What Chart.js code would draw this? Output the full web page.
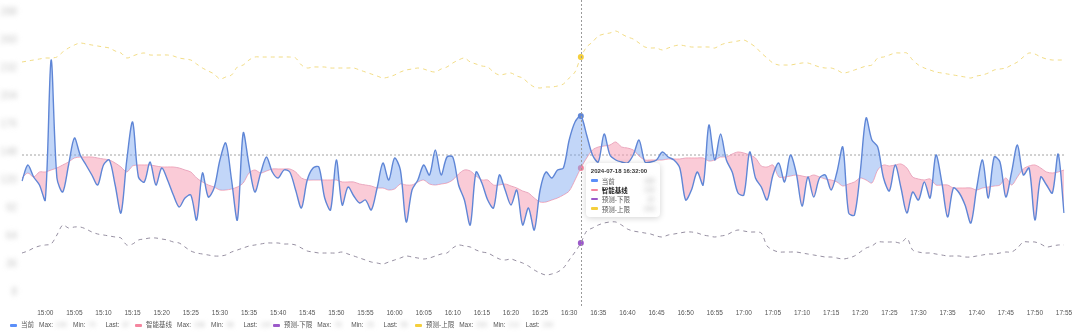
<!DOCTYPE html>
<html>
<head>
<meta charset="utf-8">
<script src="https://cdn.jsdelivr.net/npm/chart.js@4/dist/chart.umd.min.js"></script>
<style>
  body { margin: 0; background: #fff; font-family: "Liberation Sans", "Noto Sans CJK SC", sans-serif; }
  #wrap { position: relative; width: 1080px; height: 335px; }
  #legend { position: absolute; left: 0; top: 321px; font-size: 6.5px; color: #555; white-space: nowrap; line-height: 8px; }
  #legend .item { position: absolute; top: 0; }
  #legend i { display: inline-block; width: 7px; height: 2.5px; border-radius: 1px; vertical-align: middle; margin-right: 4px; }
  #legend .k { margin-left: 5px; }
  #legend .b { display: inline-block; width: 12px; filter: blur(2px); color: #c4c4c4; margin-left: 3px; overflow: hidden; vertical-align: top; }
  #tip { position: absolute; background: #fff; border-radius: 4px; box-shadow: 0 1px 6px rgba(0,0,0,0.18);
         padding: 3px 5px 4px 5px; font-size: 6.5px; color: #555; pointer-events: none; min-width: 62px; }
  #tip .t { font-weight: bold; color: #333; font-size: 6px; line-height: 10px; }
  #tip .row { display: flex; align-items: center; height: 9.3px; }
  #tip .row i { display: inline-block; width: 7px; height: 2.5px; border-radius: 1px; margin-right: 4px; }
  #tip .row.hi .n { font-weight: bold; color: #222; }
  #tip .v { margin-left: auto; padding-left: 14px; filter: blur(2.5px); color: #aaa; }
</style>
</head>
<body>
<div id="wrap">
  <canvas id="c" width="1080" height="335"></canvas>
  <div id="legend"></div>
  <div id="tip"></div>
</div>
<script>
// one point per minute, 14:56 -> 17:55
const dateText = "2024-07-18";
const startMinute = 14 * 60 + 56;
const times = Array.from({ length: 180 }, (_, i) => {
  const t = startMinute + i;
  return String(Math.floor(t / 60)).padStart(2, "0") + ":" + String(t % 60).padStart(2, "0");
});

const seriesNames = ["当前", "智能基线", "预测-下限", "预测-上限"];
const hoverTime = "16:32";

const current = [119,135,123,115,100,240,122,108,135,162,
  145,135,125,115,135,140,115,87,140,178,
  123,118,138,115,132,120,105,93,102,105,
  80,127,103,112,140,157,120,80,167,135,
  108,127,143,128,122,130,128,110,92,120,
  132,133,102,90,140,95,113,104,97,100,
  90,112,137,120,142,130,78,110,120,135,
  125,150,125,143,143,115,100,75,128,117,
  100,92,125,110,95,110,75,92,70,110,
  128,122,130,132,160,178,184,165,145,138,
  166,145,140,138,137,145,160,138,138,140,
  148,143,140,132,100,110,128,115,175,140,
  166,140,128,107,105,148,122,113,100,125,
  137,118,145,127,94,123,103,122,125,110,
  128,153,87,85,128,182,160,153,122,109,
  135,112,87,108,100,118,102,145,118,83,
  112,107,95,77,112,140,102,143,138,103,
  128,155,125,132,80,123,115,107,146,87];

const baseline = [122,127,123,128,128,130,132,135,138,142,
  143,143,143,142,141,140,137,133,128,134,
  135,135,135,134,133,133,133,132,130,128,
  122,118,115,113,110,110,111,113,117,127,
  130,127,129,131,131,131,131,128,122,120,
  120,120,120,120,120,118,118,118,116,115,
  114,112,112,110,111,116,115,115,118,120,
  116,115,116,117,120,126,130,129,124,120,
  120,115,115,116,114,112,109,107,102,98,
  98,100,102,105,109,120,132,142,150,153,
  154,155,158,153,152,150,144,140,140,140,
  140,141,141,141,142,142,142,142,139,140,
  143,143,146,148,147,145,142,134,133,135,
  123,123,124,125,124,123,125,123,121,120,
  118,114,116,118,122,120,117,130,135,134,
  135,136,132,123,121,120,121,115,115,115,
  112,112,112,112,110,112,113,114,115,122,
  115,123,131,134,135,132,128,127,128,130];

const lowerBound = [47,49,52,54,55,56,65,75,72,73,
  73,71,68,66,65,64,63,62,55,56,
  60,61,62,62,61,60,58,57,53,49,
  47,46,45,44,44,45,48,50,52,54,
  55,56,57,57,57,56,56,55,52,49,
  48,47,47,47,47,48,46,44,42,40,
  38,37,36,38,40,42,44,43,42,41,
  42,44,46,47,52,55,54,53,50,48,
  47,44,41,40,41,39,37,34,30,27,
  25,26,28,32,40,48,57,69,72,75,
  77,78,78,75,71,69,68,67,66,64,
  63,65,66,67,68,68,67,65,64,63,
  64,65,68,70,69,68,68,67,54,50,
  48,48,48,48,47,46,45,44,43,43,
  42,41,42,44,48,52,54,58,58,58,
  58,57,62,50,48,47,47,46,45,44,
  44,44,43,43,44,45,46,46,47,48,
  48,52,58,58,58,56,53,54,55,55];

const upperBound = [238,239,240,241,242,242,243,248,252,255,
  257,256,255,254,253,252,249,247,242,244,
  246,247,245,245,245,245,244,242,241,240,
  236,232,229,226,221,223,225,233,235,240,
  243,243,243,243,243,243,243,242,235,232,
  233,233,233,232,232,232,232,232,230,228,
  226,224,222,223,225,228,230,231,232,231,
  229,228,231,233,237,240,242,238,236,234,
  233,228,225,226,227,224,222,217,213,212,
  213,213,214,216,222,228,243,253,258,264,
  266,267,269,266,263,261,257,253,252,252,
  250,252,254,255,254,253,253,253,253,252,
  255,257,258,259,260,257,253,247,242,237,
  235,235,235,236,237,237,235,233,232,232,
  230,227,228,230,232,234,235,242,243,245,
  247,247,247,240,235,232,230,228,227,226,
  225,224,223,222,224,225,227,230,231,232,
  235,238,243,247,246,243,241,240,240,240];

const threshold = 145;
const yTicks = { min: 8, max: 288, step: 28 };

const swatch = ["#5b8ff9", "#f4869f", "#9b59c9", "#f5cf3c"];
const legendLeft = [10, 135, 273, 415];
const hoverIndex = times.indexOf(hoverTime);

// legend below the chart (values are masked like in the source)
const legendEl = document.getElementById("legend");
[current, baseline, lowerBound, upperBound].forEach((arr, i) => {
  const span = document.createElement("span");
  span.className = "item";
  span.style.left = legendLeft[i] + "px";
  span.innerHTML = `<i style="background:${swatch[i]}"></i>${seriesNames[i]}` +
    `<span class="k">Max:</span><span class="b">${Math.max(...arr)}</span>` +
    `<span class="k">Min:</span><span class="b">${Math.min(...arr)}</span>` +
    `<span class="k">Last:</span><span class="b">${arr[arr.length - 1]}</span>`;
  legendEl.appendChild(span);
});

const overlay = {
  id: "overlay",
  afterDatasetsDraw(chart) {
    const { ctx, chartArea } = chart;
    const x = Math.round(chart.scales.x.getPixelForValue(hoverIndex)) + 0.5;
    ctx.save();
    ctx.strokeStyle = "#9a9a9a";
    ctx.lineWidth = 1;
    ctx.setLineDash([2, 2]);
    ctx.beginPath();
    ctx.moveTo(x, 0);
    ctx.lineTo(x, chartArea.bottom + 15);
    ctx.stroke();
    ctx.restore();
  },
  afterDraw(chart) {
    const y = chart.scales.y;
    const ctx = chart.ctx;
    ctx.save();
    ctx.filter = "blur(2.5px)";
    ctx.fillStyle = "#c6c6c6";
    ctx.font = "10px 'Liberation Sans'";
    ctx.textAlign = "right";
    ctx.textBaseline = "middle";
    y.ticks.forEach(t => ctx.fillText(String(t.value), 17, y.getPixelForValue(t.value)));
    ctx.restore();
  }
};

function externalTip(context) {
  const { tooltip } = context;
  const el = document.getElementById("tip");
  if (tooltip.opacity === 0) { el.style.opacity = 0; return; }
  el.style.opacity = 1;
  el.innerHTML = `<div class="t">${tooltip.title[0]}</div>` + tooltip.dataPoints.map(p =>
    `<div class="row${p.datasetIndex === 1 ? " hi" : ""}"><i style="background:${swatch[p.datasetIndex]}"></i>` +
    `<span class="n">${p.dataset.label}</span><span class="v">${p.formattedValue}</span></div>`).join("");
  const base = tooltip.dataPoints.find(p => p.datasetIndex === 1).element;
  el.style.left = (tooltip.caretX + 5) + "px";
  el.style.top = (base.y - 5) + "px";
}

const line = (label, data, extra) => Object.assign({
  label, data,
  pointRadius: 0,
  pointHoverRadius: 3,
  pointHoverBorderWidth: 0,
  tension: 0.3,
  fill: false
}, extra);

const chart = new Chart(document.getElementById("c"), {
  type: "line",
  data: {
    labels: times,
    datasets: [
      line(seriesNames[0], current, {
        borderColor: "#5f86d6", borderWidth: 1.4,
        pointHoverBackgroundColor: "#5f86d6",
        fill: { target: 1, above: "rgba(120,165,240,0.45)", below: "rgba(245,160,182,0.55)" }
      }),
      line(seriesNames[1], baseline, {
        borderColor: "rgba(242,160,180,0.9)", borderWidth: 1,
        pointHoverBackgroundColor: "#f4869f"
      }),
      line(seriesNames[2], lowerBound, {
        borderColor: "#8a8296", borderWidth: 0.9, borderDash: [4, 4],
        pointHoverBackgroundColor: "#9b59c9"
      }),
      line(seriesNames[3], upperBound, {
        borderColor: "#f0d878", borderWidth: 0.9, borderDash: [4, 4],
        pointHoverBackgroundColor: "#f5cf3c"
      }),
      line("阈值", times.map(() => threshold), {
        borderColor: "#8c8c8c", borderWidth: 0.8, borderDash: [2, 2], pointHoverRadius: 0, tension: 0
      })
    ]
  },
  options: {
    responsive: false,
    animation: false,
    events: [],
    layout: { padding: { left: 2, right: 16, top: 12, bottom: 18 } },
    interaction: { mode: "index", intersect: false },
    plugins: {
      legend: { display: false },
      tooltip: {
        enabled: false,
        external: externalTip,
        filter: item => item.datasetIndex < 4,
        callbacks: { title: items => `${dateText} ${items[0].label}:00` }
      }
    },
    scales: {
      x: {
        grid: { display: false, drawTicks: false },
        border: { display: false },
        ticks: {
          autoSkip: false, maxRotation: 0, padding: 17,
          color: "#555", font: { size: 6.5, family: "'Liberation Sans'" },
          callback: (v, i) => (times[i].endsWith("0") || times[i].endsWith("5")) ? times[i] : null
        },
        afterFit: s => { s.height = 25; s.paddingLeft = 0; s.paddingRight = 0; }
      },
      y: {
        min: yTicks.min, max: yTicks.max,
        grid: { display: false, drawTicks: false },
        border: { display: false },
        ticks: { display: false, stepSize: yTicks.step },
        afterFit: s => { s.width = 20; }
      }
    }
  },
  plugins: [overlay]
});

const active = [0, 1, 2, 3].map(i => ({ datasetIndex: i, index: hoverIndex }));
chart.setActiveElements(active);
chart.tooltip.setActiveElements(active, { x: 0, y: 0 });
chart.update();
</script>
</body>
</html>
